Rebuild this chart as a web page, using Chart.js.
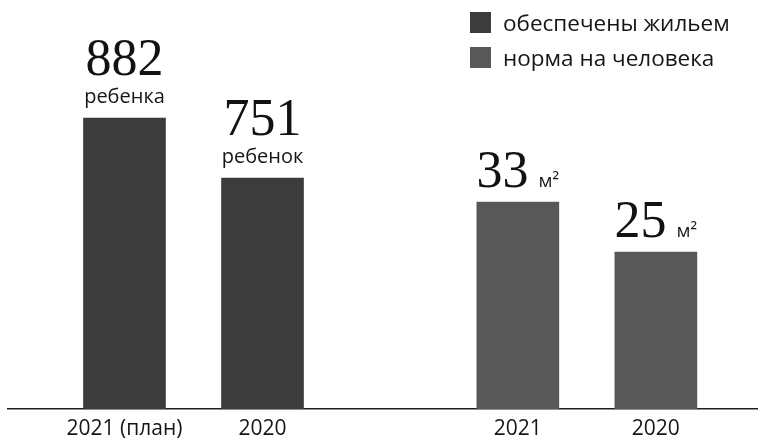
<!DOCTYPE html>
<html>
<head>
<meta charset="utf-8">
<script src="https://cdn.jsdelivr.net/npm/chart.js@4.4.1/dist/chart.umd.min.js"></script>
<style>
    html, body { margin: 0; padding: 0; background: #fff; overflow: hidden; }
    #wrap { position: relative; width: 758px; height: 443px; overflow: hidden; }
    #legend { position: absolute; left: 470px; top: 12px; font-family: 'Open Sans', sans-serif; font-size: 22.5px; color: #161616; }
    .item { display: flex; align-items: center; height: 21px; margin-bottom: 14px; white-space: nowrap; }
    .box { width: 21px; height: 21px; margin-right: 12px; flex: none; }
</style>
</head>
<body>
<div id="wrap">
    <canvas id="housingChart" width="758" height="443"></canvas>
    <div id="legend"></div>
</div>
<script>
// Data
const groupNames = ['обеспечены жильем', 'норма на человека'];
const childYears = ['2021 (план)', '2020'];
const childValues = [882, 751];
const childUnits = ['ребенка', 'ребенок'];
const areaYears = ['2021', '2020'];
const areaValues = [33, 25];
const areaUnit = 'м²';

// Layout: extra space between the two groups, in bar slots
const GROUP_GAP = 1.85;
const slot = (g, i) => g * (childValues.length - 1 + GROUP_GAP) + i;

const tickPositions = [
    ...childYears.map((_, i) => slot(0, i)),
    ...areaYears.map((_, i) => slot(1, i))
];
const tickLabels = [...childYears, ...areaYears];

const numFont = '52px "Liberation Serif", serif';
const unitFont = '20px "Open Sans", sans-serif';
const sqFont = '19px "Open Sans", sans-serif';

// Draw the numbers and units above the bars
const valueLabels = {
    id: 'valueLabels',
    afterDatasetsDraw(chart) {
        const ctx = chart.ctx;
        ctx.save();
        ctx.textBaseline = 'alphabetic';

        chart.getDatasetMeta(0).data.forEach((bar, i) => {
            ctx.textAlign = 'center';
            ctx.fillStyle = '#121212';
            ctx.font = numFont;
            ctx.fillText(String(childValues[i]), bar.x, bar.y - 43);
            ctx.fillStyle = '#161616';
            ctx.font = unitFont;
            ctx.fillText(childUnits[i], bar.x, bar.y - 15);
        });

        chart.getDatasetMeta(1).data.forEach((bar, i) => {
            const text = String(areaValues[i]);
            ctx.font = numFont;
            const numW = ctx.measureText(text).width;
            ctx.font = sqFont;
            const unitW = ctx.measureText(areaUnit).width;
            const gap = 10;
            const x0 = bar.x - (numW + gap + unitW) / 2;
            ctx.textAlign = 'left';
            ctx.fillStyle = '#121212';
            ctx.font = numFont;
            ctx.fillText(text, x0, bar.y - 15);
            ctx.fillStyle = '#161616';
            ctx.font = sqFont;
            ctx.fillText(areaUnit, x0 + numW + gap, bar.y - 15);
        });
        ctx.restore();
    }
};

const chart = new Chart(document.getElementById('housingChart'), {
    type: 'bar',
    data: {
        datasets: [{
            label: groupNames[0],
            data: childValues.map((v, i) => ({ x: slot(0, i), y: v })),
            backgroundColor: '#3c3c3c',
            yAxisID: 'y',
            grouped: false,
            barThickness: 82
        }, {
            label: groupNames[1],
            data: areaValues.map((v, i) => ({ x: slot(1, i), y: v })),
            backgroundColor: '#585858',
            yAxisID: 'y2',
            grouped: false,
            barThickness: 82
        }]
    },
    options: {
        responsive: false,
        animation: false,
        layout: {
            padding: { left: 8, right: 0, top: 0, bottom: 0 }
        },
        scales: {
            x: {
                type: 'linear',
                offset: false,
                min: -0.844,
                max: 4.59,
                grid: { display: false, drawTicks: false },
                border: { display: true, color: '#1e1e1e', width: 1.5 },
                afterBuildTicks: axis => {
                    axis.ticks = tickPositions.map(v => ({ value: v }));
                },
                // fixed axis height so the baseline sits at y = 409
                afterFit: axis => {
                    axis.height = 34;
                },
                ticks: {
                    autoSkip: false,
                    maxRotation: 0,
                    padding: 7,
                    color: '#161616',
                    font: { family: 'Open Sans', size: 21 },
                    callback: (value, index) => tickLabels[index]
                }
            },
            y: {
                display: false,
                min: 246.6,
                max: 1139.6
            },
            y2: {
                display: false,
                min: 0,
                max: 65.2
            }
        },
        plugins: {
            legend: { display: false },
            tooltip: { enabled: false }
        }
    },
    plugins: [valueLabels]
});

// Legend in the top right corner, built from the datasets
const legendEl = document.getElementById('legend');
chart.data.datasets.forEach(ds => {
    const item = document.createElement('div');
    item.className = 'item';
    const box = document.createElement('span');
    box.className = 'box';
    box.style.background = ds.backgroundColor;
    const label = document.createElement('span');
    label.textContent = ds.label;
    item.appendChild(box);
    item.appendChild(label);
    legendEl.appendChild(item);
});
</script>
</body>
</html>
